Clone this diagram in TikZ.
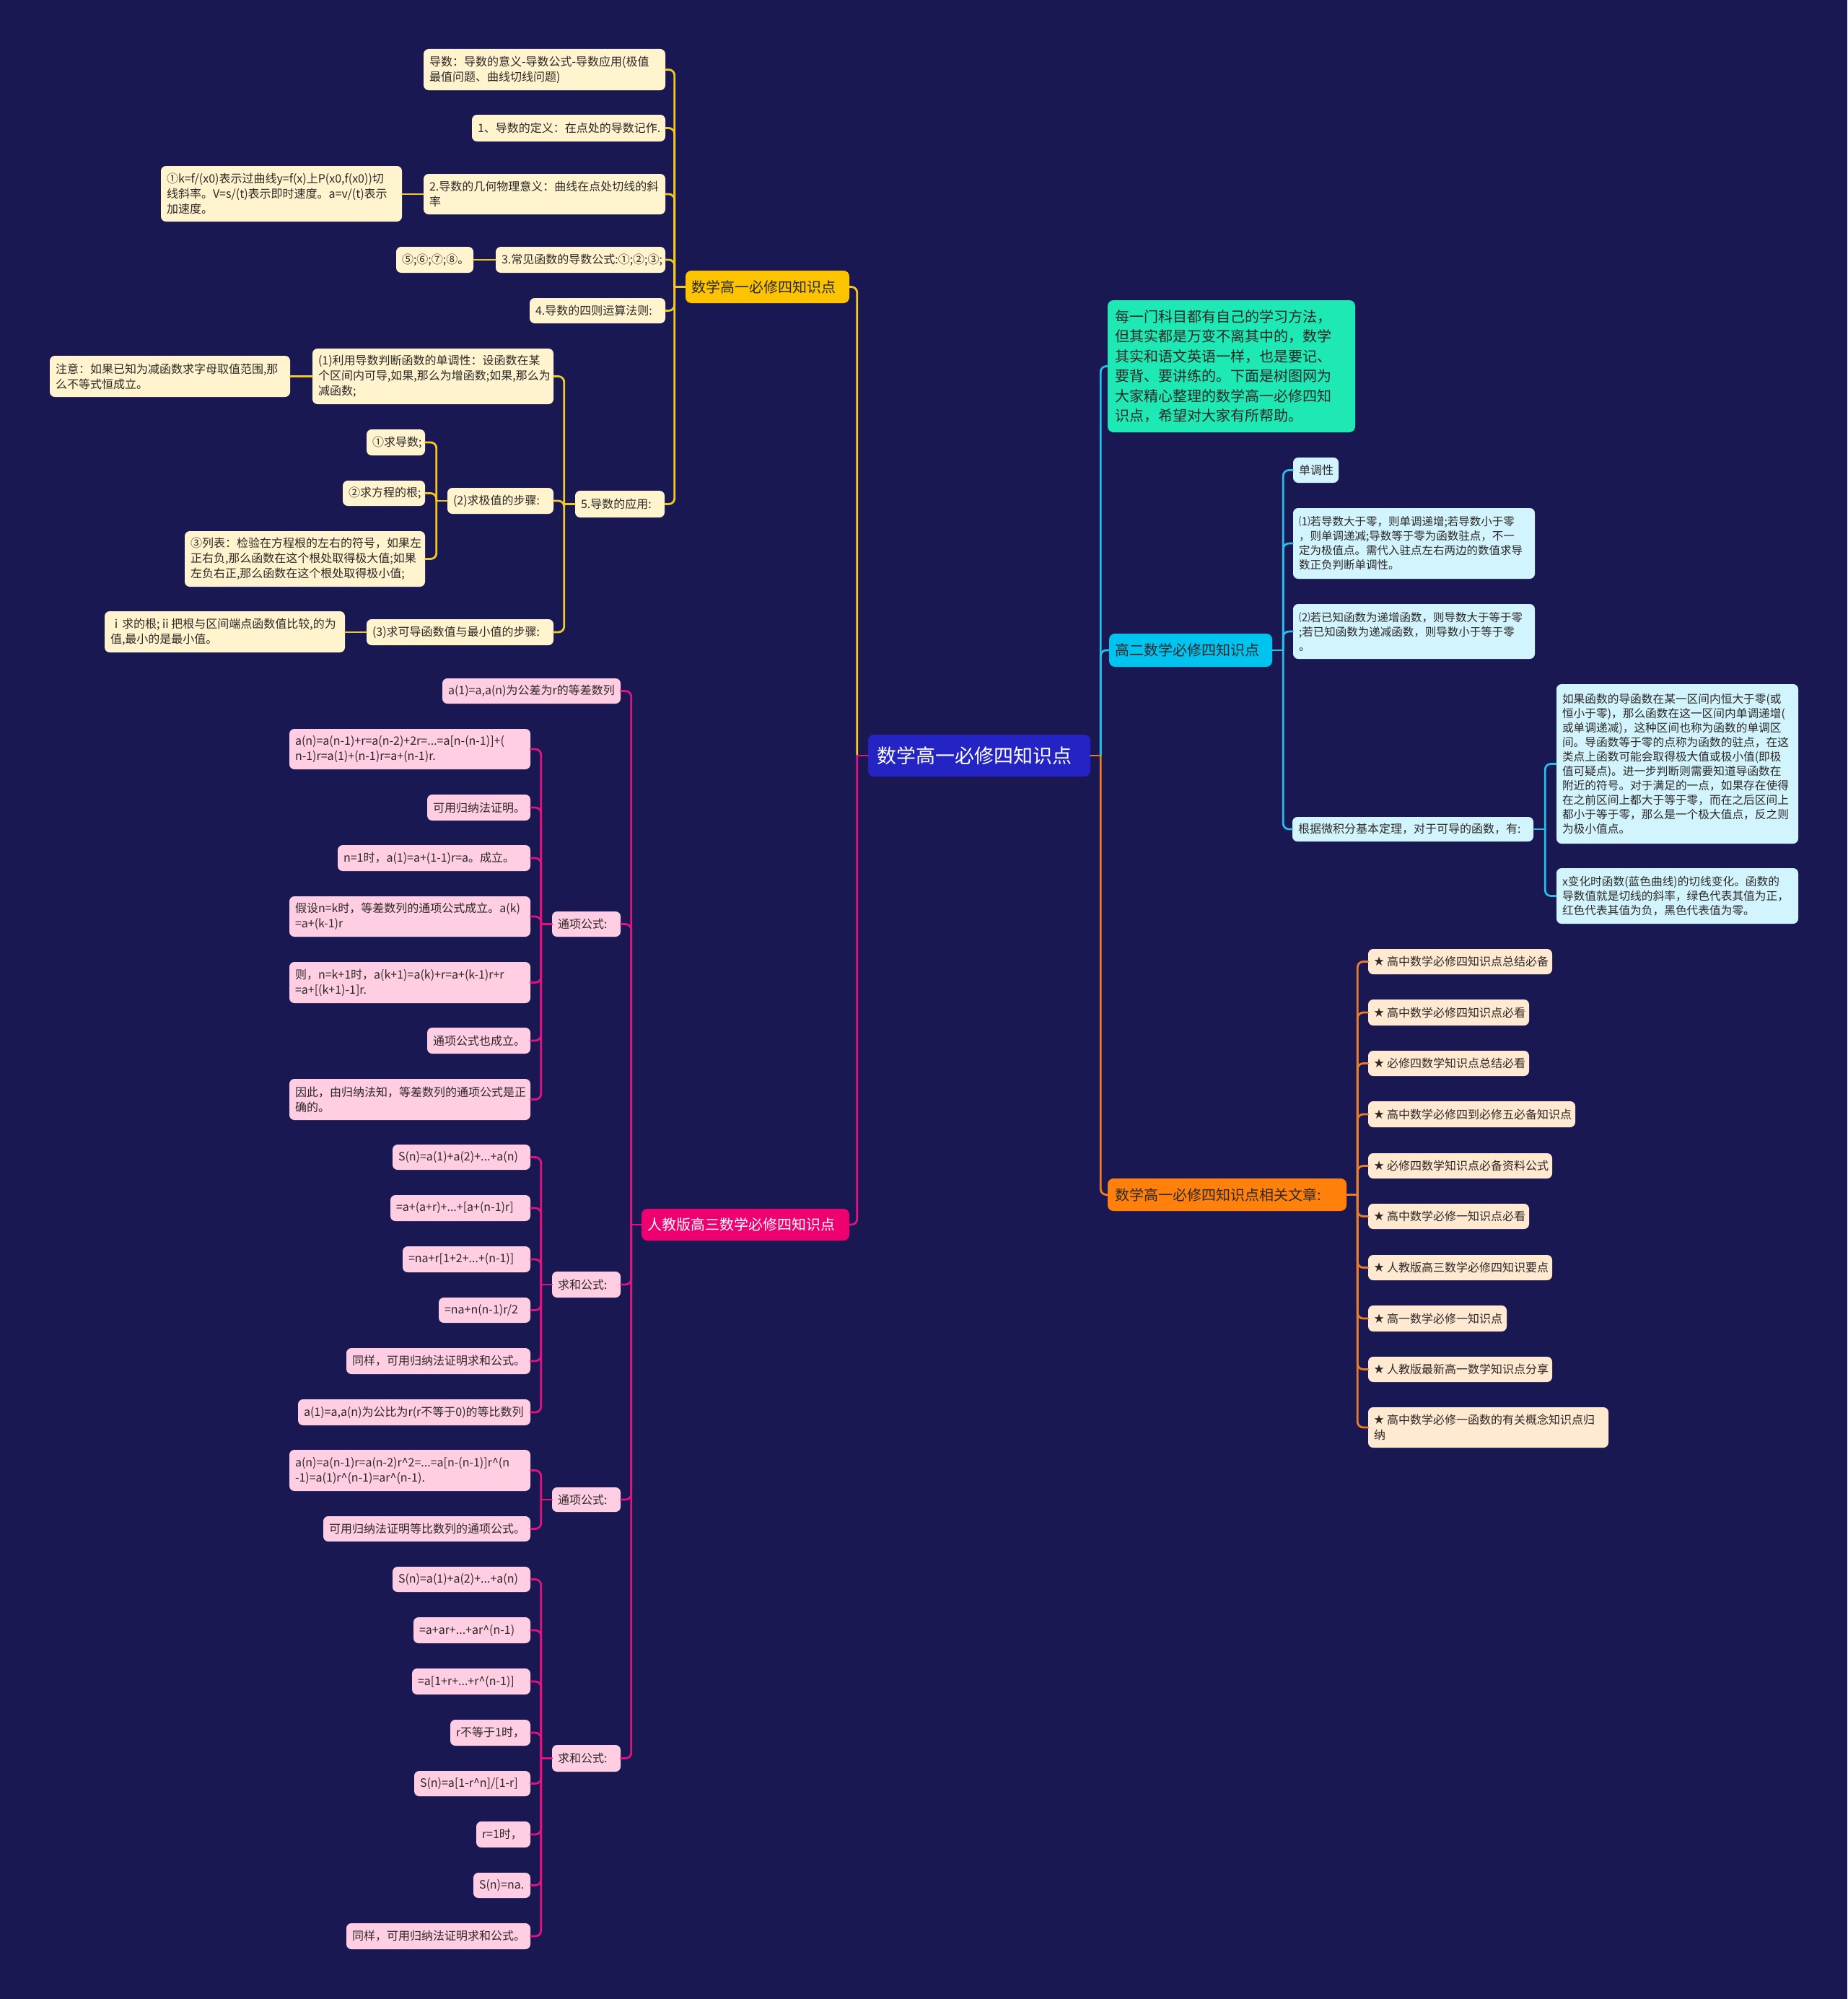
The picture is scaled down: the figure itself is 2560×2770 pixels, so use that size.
\documentclass[tikz,border=0pt]{standalone}
\usepackage{fontspec}
\setmainfont{Noto Sans CJK SC}
\usetikzlibrary{calc}
\definecolor{bg}{RGB}{25,24,82}
\definecolor{txt}{RGB}{45,40,40}
\definecolor{cfill}{RGB}{36,36,196}
\definecolor{ymain}{RGB}{252,196,0}
\definecolor{yfill}{RGB}{255,244,206}
\definecolor{yline}{RGB}{242,200,40}
\definecolor{pmain}{RGB}{238,0,112}
\definecolor{pfill}{RGB}{255,206,226}
\definecolor{pline}{RGB}{222,20,128}
\definecolor{tmain}{RGB}{30,233,180}
\definecolor{cmain}{RGB}{0,195,240}
\definecolor{cfillc}{RGB}{210,245,253}
\definecolor{cline}{RGB}{40,190,232}
\definecolor{omain}{RGB}{255,128,10}
\definecolor{ofill}{RGB}{255,233,208}
\definecolor{oline}{RGB}{236,125,40}
\newcommand\mmnode[7]{%
  \pgfmathsetmacro\bw{#5-#3}\pgfmathsetmacro\bh{#6-#4}\pgfmathsetmacro\tw{#5-#3-16}%
  \pgfmathsetmacro\bcx{(#3+#5)/2}\pgfmathsetmacro\bcy{(#4+#6)/2}%
  \node[#2, minimum width=\bw pt, minimum height=\bh pt, text width=\tw pt] (#1) at (\bcx,\bcy) {#7};}
\newcommand\mystar{{\fontsize{14}{14}\selectfont\raisebox{1pt}{★}}\kern4pt}
\begin{document}
\begin{tikzpicture}[x=1pt,y=-1pt,
  box/.style={draw=none, rounded corners=7pt, inner xsep=8pt, inner ysep=3pt, align=left, font=\fontsize{16}{21}\selectfont, text=txt},
  bigbox/.style={box, font=\fontsize{20}{24}\selectfont},
  ybox/.style={box, fill=yfill},
  pbox/.style={box, fill=pfill},
  cbox/.style={box, fill=cfillc},
  obox/.style={box, fill=ofill},
  lk/.style={line width=2.8pt, rounded corners=8pt, line cap=round},
  yl/.style={lk, draw=yline},
  pl/.style={lk, draw=pline},
  cl/.style={lk, draw=cline},
  ol/.style={lk, draw=oline}]
\useasboundingbox (0,0) rectangle (2560,2770);
\fill[bg] (0,0) rectangle (2560,2770);

% center
\mmnode{C}{box, fill=cfill, text=white, rounded corners=8pt, font=\fontsize{27}{32}\selectfont, inner xsep=12pt}{1207}{1018}{1507}{1076}{数学高一必修四知识点}

% yellow branch
\mmnode{Y0}{bigbox, fill=ymain, rounded corners=8pt}{950}{375}{1177}{420}{数学高一必修四知识点}
\mmnode{Y1}{ybox}{587}{68}{922}{125}{导数：导数的意义-导数公式-导数应用(极值\\最值问题、曲线切线问题)}
\mmnode{Y2}{ybox}{654}{159}{922}{196}{1、导数的定义：在点处的导数记作.}
\mmnode{Y3}{ybox}{587}{241}{922}{297}{2.导数的几何物理意义：曲线在点处切线的斜\\率}
\mmnode{Y3a}{ybox}{223}{230}{557}{307}{①k=f/(x0)表示过曲线y=f(x)上P(x0,f(x0))切\\线斜率。V=s/(t)表示即时速度。a=v/(t)表示\\加速度。}
\mmnode{Y4}{ybox, inner xsep=6pt}{687}{342}{922}{378}{3.常见函数的导数公式:①;②;③;}
\mmnode{Y4a}{ybox}{549}{342}{656}{378}{⑤;⑥;⑦;⑧。}
\mmnode{Y5}{ybox}{734}{413}{922}{448}{4.导数的四则运算法则:}
\mmnode{Y6}{ybox}{797}{680}{921}{717}{5.导数的应用:}
\mmnode{Y61}{ybox}{433}{483}{767}{560}{(1)利用导数判断函数的单调性：设函数在某\\个区间内可导,如果,那么为增函数;如果,那么为\\减函数;}
\mmnode{Y61a}{ybox}{69}{493}{402}{550}{注意：如果已知为减函数求字母取值范围,那\\么不等式恒成立。}
\mmnode{Y62}{ybox}{620}{676}{767}{712}{(2)求极值的步骤:}
\mmnode{Y621}{ybox, inner xsep=6pt}{508}{595}{589}{631}{①求导数;}
\mmnode{Y622}{ybox}{475}{666}{589}{701}{②求方程的根;}
\mmnode{Y623}{ybox}{256}{736}{589}{813}{③列表：检验在方程根的左右的符号，如果左\\正右负,那么函数在这个根处取得极大值;如果\\左负右正,那么函数在这个根处取得极小值;}
\mmnode{Y63}{ybox}{508}{858}{767}{894}{(3)求可导函数值与最小值的步骤:}
\mmnode{Y63a}{ybox}{145}{847}{478}{904}{ⅰ求的根;ⅱ把根与区间端点函数值比较,的为\\值,最小的是最小值。}

% pink branch
\mmnode{P0}{bigbox, fill=pmain, text=white, rounded corners=8pt}{889}{1675}{1177}{1719}{人教版高三数学必修四知识点}
\mmnode{P1}{pbox}{613}{940}{860}{975}{a(1)=a,a(n)为公差为r的等差数列}
\mmnode{P2}{pbox}{765}{1263}{860}{1298}{通项公式:}
\mmnode{P2a}{pbox}{401}{1010}{735}{1066}{a(n)=a(n-1)+r=a(n-2)+2r=...=a[n-(n-1)]+(\\n-1)r=a(1)+(n-1)r=a+(n-1)r.}
\mmnode{P2b}{pbox}{592}{1101}{735}{1137}{可用归纳法证明。}
\mmnode{P2c}{pbox}{468}{1171}{735}{1207}{n=1时，a(1)=a+(1-1)r=a。成立。}
\mmnode{P2d}{pbox}{401}{1242}{735}{1298}{假设n=k时，等差数列的通项公式成立。a(k)\\=a+(k-1)r}
\mmnode{P2e}{pbox}{401}{1333}{735}{1390}{则，n=k+1时，a(k+1)=a(k)+r=a+(k-1)r+r\\=a+[(k+1)-1]r.}
\mmnode{P2f}{pbox}{592}{1424}{735}{1460}{通项公式也成立。}
\mmnode{P2g}{pbox}{401}{1495}{735}{1552}{因此，由归纳法知，等差数列的通项公式是正\\确的。}
\mmnode{P3}{pbox}{765}{1762}{860}{1798}{求和公式:}
\mmnode{P3a}{pbox}{544}{1586}{735}{1621}{S(n)=a(1)+a(2)+...+a(n)}
\mmnode{P3b}{pbox}{541}{1656}{735}{1692}{=a+(a+r)+...+[a+(n-1)r]}
\mmnode{P3c}{pbox}{558}{1727}{735}{1763}{=na+r[1+2+...+(n-1)]}
\mmnode{P3d}{pbox}{608}{1798}{735}{1833}{=na+n(n-1)r/2}
\mmnode{P3e}{pbox}{480}{1868}{735}{1904}{同样，可用归纳法证明求和公式。}
\mmnode{P3f}{pbox}{413}{1939}{735}{1975}{a(1)=a,a(n)为公比为r(r不等于0)的等比数列}
\mmnode{P4}{pbox}{765}{2061}{860}{2095}{通项公式:}
\mmnode{P4a}{pbox}{401}{2009}{735}{2066}{a(n)=a(n-1)r=a(n-2)r\textasciicircum 2=...=a[n-(n-1)]r\textasciicircum (n\\-1)=a(1)r\textasciicircum (n-1)=ar\textasciicircum (n-1).}
\mmnode{P4b}{pbox}{448}{2101}{735}{2136}{可用归纳法证明等比数列的通项公式。}
\mmnode{P5}{pbox}{765}{2418}{860}{2455}{求和公式:}
\mmnode{P5a}{pbox}{544}{2171}{735}{2206}{S(n)=a(1)+a(2)+...+a(n)}
\mmnode{P5b}{pbox}{573}{2241}{735}{2277}{=a+ar+...+ar\textasciicircum (n-1)}
\mmnode{P5c}{pbox}{571}{2312}{735}{2348}{=a[1+r+...+r\textasciicircum (n-1)]}
\mmnode{P5d}{pbox}{624}{2383}{735}{2419}{r不等于1时，}
\mmnode{P5e}{pbox}{574}{2454}{735}{2489}{S(n)=a[1-r\textasciicircum n]/[1-r]}
\mmnode{P5f}{pbox}{660}{2524}{735}{2560}{r=1时，}
\mmnode{P5g}{pbox}{656}{2595}{735}{2630}{S(n)=na.}
\mmnode{P5h}{pbox}{480}{2665}{735}{2701}{同样，可用归纳法证明求和公式。}

% cyan branch
\mmnode{I}{box, fill=tmain, rounded corners=8pt, font=\fontsize{20}{27.5}\selectfont, inner xsep=10pt}{1537}{416}{1876}{599}{每一门科目都有自己的学习方法，\\但其实都是万变不离其中的，数学\\其实和语文英语一样，也是要记、\\要背、要讲练的。下面是树图网为\\大家精心整理的数学高一必修四知\\识点，希望对大家有所帮助。}
\mmnode{H2}{bigbox, fill=cmain, rounded corners=8pt}{1537}{878}{1763}{924}{高二数学必修四知识点}
\mmnode{C1}{cbox}{1792}{634}{1855}{669}{单调性}
\mmnode{C2}{cbox, font=\fontsize{15.5}{20}\selectfont}{1792}{704}{2127}{802}{⑴若导数大于零，则单调递增;若导数小于零\\，则单调递减;导数等于零为函数驻点，不一\\定为极值点。需代入驻点左右两边的数值求导\\数正负判断单调性。}
\mmnode{C3}{cbox, font=\fontsize{15.5}{20}\selectfont}{1792}{837}{2127}{913}{⑵若已知函数为递增函数，则导数大于等于零\\;若已知函数为递减函数，则导数小于等于零\\。}
\mmnode{C4}{cbox}{1791}{1132}{2125}{1166}{根据微积分基本定理，对于可导的函数，有:}
\mmnode{C4a}{cbox, font=\fontsize{15.7}{20}\selectfont}{2157}{948}{2492}{1169}{如果函数的导函数在某一区间内恒大于零(或\\恒小于零)，那么函数在这一区间内单调递增(\\或单调递减)，这种区间也称为函数的单调区\\间。导函数等于零的点称为函数的驻点，在这\\类点上函数可能会取得极大值或极小值(即极\\值可疑点)。进一步判断则需要知道导函数在\\附近的符号。对于满足的一点，如果存在使得\\在之前区间上都大于等于零，而在之后区间上\\都小于等于零，那么是一个极大值点，反之则\\为极小值点。}
\mmnode{C4b}{cbox, font=\fontsize{15.7}{20}\selectfont}{2157}{1203}{2492}{1280}{x变化时函数(蓝色曲线)的切线变化。函数的\\导数值就是切线的斜率，绿色代表其值为正，\\红色代表其值为负，黑色代表值为零。}

% orange branch
\mmnode{O}{bigbox, fill=omain, rounded corners=8pt, inner xsep=10pt}{1537}{1633}{1864}{1678}{数学高一必修四知识点相关文章:}
\mmnode{O1}{obox}{1896}{1315}{2151}{1350}{\mystar 高中数学必修四知识点总结必备}
\mmnode{O2}{obox}{1896}{1385}{2119}{1421}{\mystar 高中数学必修四知识点必看}
\mmnode{O3}{obox}{1896}{1456}{2119}{1491}{\mystar 必修四数学知识点总结必看}
\mmnode{O4}{obox}{1896}{1526}{2183}{1562}{\mystar 高中数学必修四到必修五必备知识点}
\mmnode{O5}{obox}{1896}{1598}{2151}{1633}{\mystar 必修四数学知识点必备资料公式}
\mmnode{O6}{obox}{1896}{1668}{2119}{1703}{\mystar 高中数学必修一知识点必看}
\mmnode{O7}{obox}{1896}{1739}{2151}{1774}{\mystar 人教版高三数学必修四知识要点}
\mmnode{O8}{obox}{1896}{1809}{2088}{1845}{\mystar 高一数学必修一知识点}
\mmnode{O9}{obox}{1896}{1880}{2151}{1915}{\mystar 人教版最新高一数学知识点分享}
\mmnode{O10}{obox}{1896}{1950}{2229}{2006}{\mystar 高中数学必修一函数的有关概念知识点归\\纳}

% connectors: center
\coordinate (Cl) at ($(C.west)+(-15,0)$);
\coordinate (Cr) at ($(C.east)+(14,0)$);
\draw[yl] (Y0.east) -| (Cl);
\draw[pl] (Cl) |- (P0.east);
\draw[pl] (C.west) -- (Cl);
\draw[cl] (Cr) |- (I.west);
\draw[cl] (Cr) |- (H2.west);
\draw[ol] (Cr) |- (O.west);
\draw[ol] (C.east) -- (Cr);

% yellow connectors
\draw[yl] (Y0.west) -- ++(-15,0) coordinate (Y0t);
\foreach \nn in {Y1,Y2,Y3,Y4,Y5,Y6} \draw[yl] (Y0t) |- (\nn.east);
\draw[yl] (Y3.west) -- (Y3.west -| Y3a.east);
\draw[yl] (Y4.west) -- (Y4a.east);
\draw[yl] (Y6.west) -- ++(-15,0) coordinate (Y6t);
\foreach \nn in {Y61,Y62,Y63} \draw[yl] (Y6t) |- (\nn.east);
\draw[yl] (Y61.west) -- (Y61a.east);
\draw[yl] (Y62.west) -- ++(-15,0) coordinate (Y62t);
\foreach \nn in {Y621,Y622,Y623} \draw[yl] (Y62t) |- (\nn.east);
\draw[yl] (Y63.west) -- (Y63.west -| Y63a.east);

% pink connectors
\draw[pl] (P0.west) -- ++(-14,0) coordinate (P0t);
\foreach \nn in {P1,P2,P3,P4,P5} \draw[pl] (P0t) |- (\nn.east);
\draw[pl] (P2.west) -- ++(-15,0) coordinate (P2t);
\foreach \nn in {P2a,P2b,P2c,P2d,P2e,P2f,P2g} \draw[pl] (P2t) |- (\nn.east);
\draw[pl] (P3.west) -- ++(-15,0) coordinate (P3t);
\foreach \nn in {P3a,P3b,P3c,P3d,P3e,P3f} \draw[pl] (P3t) |- (\nn.east);
\draw[pl] (P4.west) -- ++(-15,0) coordinate (P4t);
\foreach \nn in {P4a,P4b} \draw[pl] (P4t) |- (\nn.east);
\draw[pl] (P5.west) -- ++(-15,0) coordinate (P5t);
\foreach \nn in {P5a,P5b,P5c,P5d,P5e,P5f,P5g,P5h} \draw[pl] (P5t) |- (\nn.east);

% cyan connectors
\draw[cl] (H2.east) -- ++(15,0) coordinate (H2t);
\foreach \nn in {C1,C2,C3,C4} \draw[cl] (H2t) |- (\nn.west);
\draw[cl] (C4.east) -- ++(16,0) coordinate (C4t);
\foreach \nn in {C4a,C4b} \draw[cl] (C4t) |- (\nn.west);

% orange connectors
\draw[ol] (O.east) -- ++(15,0) coordinate (Ot);
\foreach \nn in {O1,O2,O3,O4,O5,O6,O7,O8,O9,O10} \draw[ol] (Ot) |- (\nn.west);
\end{tikzpicture}
\end{document}
